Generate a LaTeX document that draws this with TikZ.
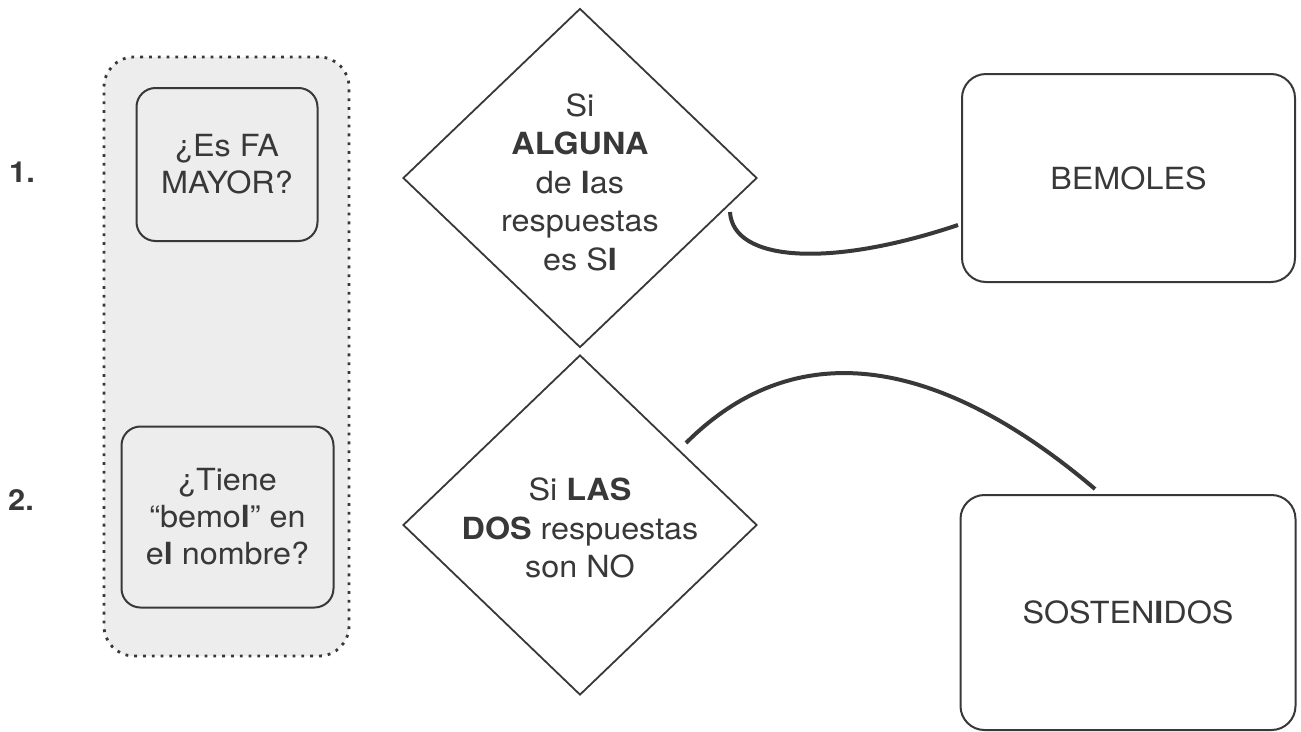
\documentclass[tikz,border=0pt]{standalone}
\usepackage{fontspec}
\setmainfont[FakeStretch=1.06]{TeX Gyre Heros}
\usetikzlibrary{shapes.geometric}
\definecolor{ink}{HTML}{383838}
\definecolor{panel}{HTML}{EDEDED}
\tikzset{
 qbox/.style={draw=ink, line width=2pt, fill=panel, rounded corners=19pt, inner sep=0pt, align=center, text=ink, font=\fontsize{30.5pt}{37pt}\selectfont},
 panelbox/.style={draw=ink, line width=2.8pt, fill=panel, rounded corners=30pt, dash pattern=on 2.8pt off 6pt, inner sep=0pt},
 dia/.style={draw=ink, shape=diamond, line width=1.8pt, inner sep=0pt},
 diatext/.style={text=ink, align=center, font=\fontsize{30.5pt}{38.5pt}\selectfont, inner sep=0pt},
 result/.style={draw=ink, line width=2pt, fill=white, rounded corners=24pt, align=center, text=ink, font=\fontsize{30.5pt}{37pt}\selectfont, inner sep=0pt},
 link/.style={draw=ink, line width=4pt},
 num/.style={text=ink, font=\bfseries\fontsize{29pt}{30pt}\selectfont, anchor=west, inner sep=0pt},
}
\begin{document}
\begin{tikzpicture}[x=1pt,y=-1pt]
\useasboundingbox (0,0) rectangle (1301,731);
% group panel
\node[panelbox, minimum width=245pt, minimum height=599pt] (grp) at (226.5,356.5) {};
% questions
\node[qbox, minimum width=181pt, minimum height=153pt] (q1) at (227,164.5) {¿Es FA\\MAYOR?};
\node[qbox, minimum width=212pt, minimum height=181pt] (q2) at (227.5,517) {¿Tiene\\“bemo\textbf{l}” en\\e\textbf{l} nombre?};
% numbers
\node[num] (n1) at (9,172.5) {1.};
\node[num] (n2) at (8,499.5) {2.};
% diamonds
\node[dia, minimum width=354pt, minimum height=339pt] (d1) at (580,178) {};
\node[diatext] (t1) at (580,182) {Si\\\textbf{ALGUNA}\\de \textbf{l}as\\respuestas\\es S\textbf{I}};
\node[dia, minimum width=354pt, minimum height=340pt] (d2) at (580,525) {};
\node[diatext] (t2) at (580,528) {Si \textbf{LAS}\\\textbf{DOS} respuestas\\son NO};
% results
\node[result, minimum width=333pt, minimum height=208pt] (r1) at (1128.5,178) {BEMOLES};
\node[result, minimum width=335pt, minimum height=235pt] (r2) at (1128,612.5) {SOSTEN\textbf{I}DOS};
% connectors
\coordinate (s1) at (730,212);
\coordinate (e1) at (958,225);
\coordinate (s2) at (686,443);
\coordinate (e2) at (1095,489);
\draw[link] (s1) .. controls (733,262) and (830,268) .. (e1);
\draw[link] (s2) .. controls (806,323) and (955,370) .. (e2);
\end{tikzpicture}
\end{document}
